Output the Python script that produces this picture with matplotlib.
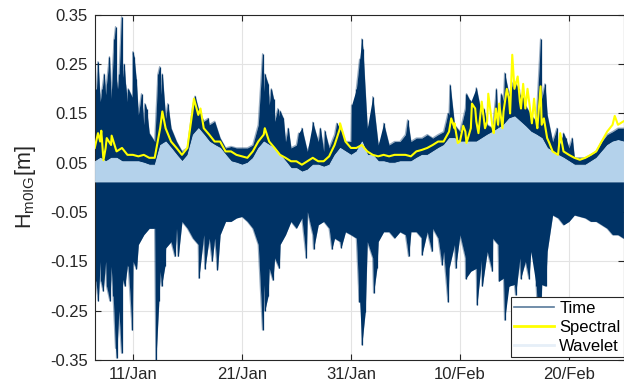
import datetime as dt
import numpy as np
import matplotlib
matplotlib.use('Agg')
import matplotlib.pyplot as plt
import matplotlib.dates as mdates
from matplotlib.lines import Line2D

# day of year (1 = 1 Jan), half-day steps from 7.5 Jan to 25 Feb
days = np.arange(7.5, 56.01, 0.5)

# Time signal: upper and lower envelope (base level)
time_upper = [0.167, 0.174, 0.188, 0.18, 0.215, 0.215, 0.174, 0.18, 0.147, 0.127,
              0.11, 0.093, 0.18, 0.14, 0.12, 0.093, 0.073, 0.08, 0.167, 0.16,
              0.134, 0.127, 0.134, 0.10, 0.08,
              0.083, 0.08, 0.08, 0.08, 0.086, 0.127, 0.194, 0.167, 0.134, 0.134,
              0.093, 0.08, 0.086, 0.066, 0.073, 0.10, 0.093, 0.073, 0.08, 0.107,
              0.113, 0.093, 0.093, 0.16, 0.22,
              0.12, 0.13, 0.086, 0.10, 0.086, 0.093, 0.093, 0.107, 0.093, 0.10,
              0.10, 0.107, 0.10, 0.107, 0.113, 0.147, 0.127, 0.113, 0.16, 0.174,
              0.147, 0.147, 0.127, 0.12, 0.12,
              0.174, 0.188, 0.215, 0.188, 0.167, 0.147, 0.134, 0.18, 0.147, 0.093,
              0.08, 0.086, 0.08, 0.06, 0.06, 0.06, 0.066, 0.073, 0.093, 0.107,
              0.113, 0.12, 0.12]
time_lower = [-0.13, -0.15, -0.15, -0.16, -0.17, -0.184, -0.157, -0.15, -0.116, -0.096,
              -0.083, -0.083, -0.17, -0.123, -0.11, -0.083, -0.069, -0.083, -0.103, -0.116,
              -0.096, -0.103, -0.103, -0.096, -0.069, -0.069, -0.062, -0.059, -0.069, -0.083,
              -0.116, -0.197, -0.164,
              -0.143, -0.116, -0.096, -0.069, -0.083, -0.062, -0.049, -0.096, -0.076, -0.069,
              -0.083, -0.103, -0.11, -0.09, -0.096, -0.103, -0.232, -0.11, -0.143, -0.11,
              -0.09, -0.09, -0.103, -0.09, -0.096, -0.09, -0.09, -0.103, -0.09, -0.083,
              -0.103, -0.13,
              -0.164, -0.116, -0.096, -0.143, -0.17, -0.164, -0.143, -0.13, -0.103, -0.116,
              -0.184, -0.164, -0.197, -0.143, -0.15, -0.13, -0.11, -0.197, -0.13, -0.056,
              -0.062, -0.076, -0.069, -0.056, -0.059, -0.062, -0.069, -0.069, -0.076, -0.083,
              -0.096, -0.096, -0.103]

# narrow spikes of the time signal
up_spike_days = [7.66, 7.8, 8.18, 8.37, 8.58, 8.85, 9.04, 9.28, 9.41, 9.59, 9.74, 9.96,
                 10.2, 10.32, 10.57, 11.0, 11.1, 11.3, 11.79, 12.1, 12.25, 13.3, 13.46,
                 13.7, 14.2, 16.7, 17.9,
                 22.9, 23.1, 23.4, 23.7, 23.9, 24.3, 24.5, 24.8, 25.25, 26.2, 26.5, 27.5,
                 28.2, 28.6, 29.7, 30.0, 31.06, 31.5, 31.8, 32.0, 32.1, 33.0, 34.0, 36.2,
                 39.9, 40.1, 41.6, 41.9, 42.5, 43.2, 44.35, 44.8, 45.1, 45.9, 46.4, 46.9,
                 48.4, 48.8, 49.9, 50.5, 50.7, 51.3]
up_spike_vals = [0.2, 0.255, 0.2, 0.23, 0.21, 0.265, 0.2, 0.3, 0.326, 0.2, 0.23, 0.346,
                 0.25, 0.21, 0.2, 0.275, 0.265, 0.22, 0.19, 0.17, 0.16, 0.23, 0.245,
                 0.23, 0.17, 0.185, 0.14,
                 0.271, 0.23, 0.21, 0.2, 0.18, 0.16, 0.155, 0.14, 0.12, 0.11, 0.12, 0.132,
                 0.12, 0.115, 0.13, 0.12, 0.167, 0.2, 0.26, 0.301, 0.28, 0.184, 0.13, 0.137,
                 0.15, 0.208, 0.19, 0.177, 0.202, 0.16, 0.2, 0.19, 0.232, 0.214, 0.2, 0.18,
                 0.301, 0.21, 0.12, 0.11, 0.1, 0.10]
lo_spike_days = [7.6, 7.82, 8.06, 8.27, 8.58, 8.89, 9.19, 9.41, 9.5, 9.71, 9.96, 10.26,
                 10.57, 10.94, 11.33, 13.11, 13.38, 13.63, 13.93, 14.85, 15.16, 17.05,
                 17.6, 18.27, 18.76, 22.89, 23.1, 23.4,
                 23.84, 24.42, 26.9, 27.57, 29.25, 30.1, 31.76, 32.0, 32.31, 33.08, 33.38,
                 36.29, 37.51, 38.43, 39.35, 39.9,
                 40.6, 41.52, 42.56, 43.05, 43.97, 44.58, 45.1, 45.5, 46.1, 46.57, 47.33,
                 48.0, 48.3, 48.86]
lo_spike_vals = [-0.19, -0.23, -0.19, -0.21, -0.2, -0.23, -0.22, -0.326, -0.346, -0.25,
                 -0.336, -0.2, -0.16, -0.289, -0.165, -0.35, -0.23, -0.2, -0.16, -0.14,
                 -0.14, -0.184, -0.165, -0.15, -0.167, -0.289, -0.25, -0.22,
                 -0.188, -0.164, -0.143, -0.125, -0.125, -0.122, -0.232, -0.319, -0.252,
                 -0.214, -0.164, -0.14, -0.137, -0.13, -0.157, -0.232,
                 -0.164, -0.185, -0.238, -0.2, -0.17, -0.19, -0.269, -0.2, -0.218, -0.185,
                 -0.185, -0.2, -0.343, -0.2]

spectral = [0.08, 0.093, 0.08, 0.086, 0.073, 0.08, 0.066, 0.066, 0.063, 0.066,
            0.06, 0.06, 0.12, 0.12, 0.093, 0.08, 0.066, 0.08, 0.16, 0.147,
            0.12, 0.107, 0.093, 0.093, 0.073,
            0.073, 0.066, 0.063, 0.06, 0.073, 0.093, 0.107, 0.093, 0.08, 0.066,
            0.06, 0.053, 0.053, 0.046, 0.053, 0.06, 0.053, 0.053, 0.063, 0.086,
            0.12, 0.093, 0.08, 0.08, 0.086,
            0.073, 0.066, 0.063, 0.066, 0.063, 0.066, 0.066, 0.066, 0.063, 0.073,
            0.076, 0.08, 0.086, 0.093, 0.093, 0.113, 0.12, 0.093, 0.113, 0.12,
            0.134, 0.174, 0.134, 0.12, 0.127,
            0.154, 0.18, 0.20, 0.174, 0.16, 0.147, 0.134, 0.127, 0.10, 0.073,
            0.066, 0.073, 0.066, 0.06, 0.056, 0.06, 0.066, 0.073, 0.093, 0.113,
            0.127, 0.127, 0.134]
spec_peak_days = [7.8, 8.1, 8.3, 8.6, 9.05, 13.7, 16.6, 17.2, 23.1, 30.0, 40.2, 40.5,
                  40.8, 41.3, 41.6, 42.1, 42.4, 42.7, 43.3, 43.6, 44.1, 44.3, 44.6, 44.9,
                  45.3, 45.6, 45.8, 46.3, 46.6, 46.8, 47.2, 47.6, 47.8, 48.1, 48.4, 48.7,
                  49.2, 50.2, 55.2]
spec_peak_vals = [0.11, 0.115, 0.055, 0.1, 0.105, 0.154, 0.18, 0.16, 0.12, 0.13, 0.14, 0.13,
                  0.09, 0.125, 0.09, 0.17, 0.16, 0.11, 0.12, 0.19, 0.11, 0.16, 0.17, 0.12,
                  0.2, 0.15, 0.269, 0.225, 0.16, 0.21, 0.2, 0.13, 0.18, 0.12, 0.205, 0.14,
                  0.09, 0.11, 0.145]

wavelet = [0.053, 0.06, 0.053, 0.06, 0.06, 0.053, 0.053, 0.053, 0.053, 0.05,
           0.046, 0.046, 0.086, 0.093, 0.08, 0.066, 0.053, 0.066, 0.107, 0.12,
           0.107, 0.093, 0.086, 0.08, 0.066,
           0.053, 0.05, 0.046, 0.05, 0.06, 0.08, 0.093, 0.086, 0.08, 0.066,
           0.053, 0.039, 0.039, 0.032, 0.036, 0.046, 0.046, 0.042, 0.046, 0.066,
           0.08, 0.073, 0.066, 0.073, 0.093,
           0.066, 0.066, 0.053, 0.053, 0.05, 0.05, 0.053, 0.053, 0.053, 0.06,
           0.066, 0.066, 0.073, 0.08, 0.086, 0.10, 0.10, 0.093, 0.093, 0.093,
           0.093, 0.10, 0.107, 0.113, 0.12,
           0.127, 0.14, 0.144, 0.134, 0.124, 0.113, 0.107, 0.10, 0.08, 0.073,
           0.066, 0.06, 0.053, 0.046, 0.046, 0.046, 0.053, 0.06, 0.073, 0.086,
           0.093, 0.096, 0.093]
wavelet_floor = 0.012

tick_days = [11, 21, 31, 41, 51]
yticks = [-0.35, -0.25, -0.15, -0.05, 0.05, 0.15, 0.25, 0.35]

day0 = mdates.date2num(dt.datetime(2018, 1, 1)) - 1


def merge(d, v, sd, sv):
    d = np.concatenate([d, sd])
    v = np.concatenate([v, sv])
    o = np.argsort(d, kind='stable')
    return d[o] + day0, v[o]


navy = '#003366'
plt.rcParams['font.family'] = ['Liberation Sans', 'DejaVu Sans']

fig = plt.figure(figsize=(6.24, 3.9), dpi=100)
ax = fig.add_axes([0.152, 0.077, 0.848, 0.885])

x = days + day0
xu, yu = merge(days, time_upper, up_spike_days, up_spike_vals)
xl, yl = merge(days, time_lower, lo_spike_days, lo_spike_vals)
xall = np.union1d(xu, xl)
ax.fill_between(xall, np.interp(xall, xl, yl), np.interp(xall, xu, yu),
                color=navy, lw=0, zorder=2)
ax.plot(xu, yu, color=navy, alpha=0.4, lw=1.0, zorder=2)
ax.plot(xl, yl, color=navy, alpha=0.4, lw=1.0, zorder=2)
# spike strokes on top of the envelope
ax.vlines(np.array(up_spike_days) + day0, 0, up_spike_vals, color=navy, lw=0.9,
          zorder=2)
ax.vlines(np.array(lo_spike_days) + day0, lo_spike_vals, 0, color=navy, lw=0.9,
          zorder=2)

ax.fill_between(x, wavelet_floor, wavelet, color='#b4d2eb', lw=0.6,
                edgecolor='#c4dcf0', zorder=3)

xs, ys = merge(days, spectral, spec_peak_days, spec_peak_vals)
ax.plot(xs, ys, color='#ffff00', lw=1.5, zorder=4)

ax.set_xlim(day0 + 7.51, day0 + 56.05)
ax.set_ylim(-0.35, 0.35)
ax.set_yticks(yticks)
ax.set_yticklabels(['%.2f' % t for t in yticks])
ax.set_xticks([day0 + d for d in tick_days])
ax.xaxis.set_major_formatter(mdates.DateFormatter('%d/%b'))

ax.grid(True, color='#e3e3e3', lw=0.8)
ax.set_axisbelow(True)
ax.tick_params(direction='in', length=4, labelsize=12, colors='#262626',
               top=True, right=True, pad=5)
for s in ax.spines.values():
    s.set_color('#262626')
    s.set_linewidth(0.8)

ax.set_ylabel(r'$\mathregular{H_{m0IG}[m]}$', fontsize=15.5, color='#262626', labelpad=9)

handles = [Line2D([], [], color=navy, alpha=0.65, lw=1.2),
           Line2D([], [], color='#ffff00', lw=2),
           Line2D([], [], color='#e6eff8', lw=2)]
leg = ax.legend(handles, ['Time', 'Spectral', 'Wavelet'], loc='lower right',
                bbox_to_anchor=(1.0, 0.008), borderaxespad=0, fontsize=12,
                handlelength=2.4, labelspacing=0.25, handletextpad=0.3,
                borderpad=0.2, fancybox=False, framealpha=1)
leg.get_frame().set_edgecolor('#262626')
leg.get_frame().set_linewidth(0.8)

fig.savefig('out.png', dpi=100)
